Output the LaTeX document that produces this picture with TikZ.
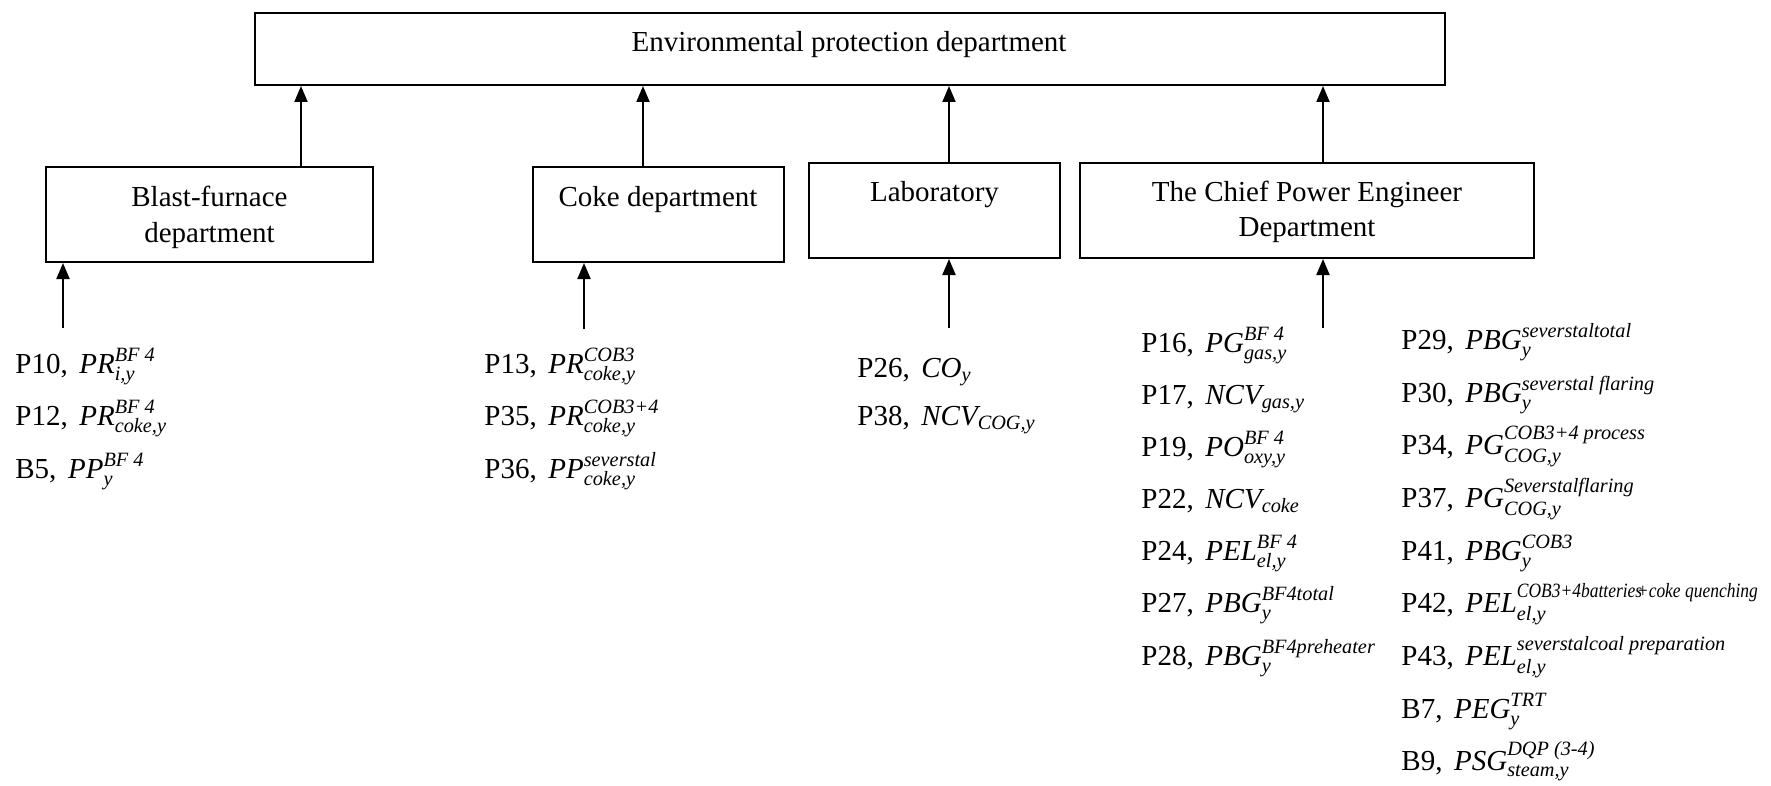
\documentclass[tikz,border=0pt]{standalone}
\usepackage{amsmath}
\usepackage{graphicx}
\usepackage{fontspec}
\setmainfont{Liberation Serif}
\usetikzlibrary{arrows.meta}
\newcommand\fs{\fontsize{14.5pt}{17.5pt}\selectfont}
\newcommand\vr[3]{$\textit{#1}^{\textit{#2}}_{\textit{#3}}$}
\newcommand\vs[2]{$\textit{#1}_{\textit{#2}}$}
\newcommand\gap{\hspace{0.4em}}
\begin{document}
\begin{tikzpicture}[x=0.5pt,y=-0.5pt,
  box/.style={draw, line width=1pt, inner sep=0pt},
  lbl/.style={inner sep=0pt, anchor=base, font=\fs},
  item/.style={inner sep=0pt, anchor=base west, font=\fs},
  arr/.style={line width=1pt, -{Triangle[length=8pt,width=6.5pt]}}]
\useasboundingbox (0,0) rectangle (1771,786);

% boxes
\node[box, minimum width=595pt, minimum height=36pt] (env) at (850,49) {};
\node[box, minimum width=163.5pt, minimum height=47.5pt] (bf) at (209.5,214.5) {};
\node[box, minimum width=125.5pt, minimum height=47.5pt] (coke) at (658.5,214.5) {};
\node[box, minimum width=125.5pt, minimum height=47.5pt] (lab) at (934.5,210.5) {};
\node[box, minimum width=227pt, minimum height=47.5pt] (cpe) at (1307,210.5) {};

% box texts
\node[lbl] (envt) at (849,52) {Environmental protection department};
\node[lbl] (bft) at (209.5,207) {\begin{tabular}[t]{@{}c@{}}Blast-furnace\\department\end{tabular}};
\node[lbl] (coket) at (658,207) {Coke department};
\node[lbl] (labt) at (934.5,202) {Laboratory};
\node[lbl] (cpet) at (1307,202) {\begin{tabular}[t]{@{}c@{}}The Chief Power Engineer\\Department\end{tabular}};

% arrows up to the top box
\coordinate (bfTop) at (301,167);
\coordinate (cokeTop) at (643,167);
\coordinate (labTop) at (949,163);
\coordinate (cpeTop) at (1323,163);
\draw[arr] (bfTop) -- (bfTop |- env.south);
\draw[arr] (cokeTop) -- (cokeTop |- env.south);
\draw[arr] (labTop) -- (labTop |- env.south);
\draw[arr] (cpeTop) -- (cpeTop |- env.south);

% arrows from the lists
\coordinate (bfIn) at (63,328);
\coordinate (cokeIn) at (584,329);
\coordinate (labIn) at (949,328);
\coordinate (cpeIn) at (1323,328);
\draw[arr] (bfIn) -- (bfIn |- bf.south);
\draw[arr] (cokeIn) -- (cokeIn |- coke.south);
\draw[arr] (labIn) -- (labIn |- lab.south);
\draw[arr] (cpeIn) -- (cpeIn |- cpe.south);

% blast-furnace list
\node[item] (p10) at (15,373) {P10,\gap\vr{PR}{BF 4}{i,y}};
\node[item] (p12) at (15,425) {P12,\gap\vr{PR}{BF 4}{coke,y}};
\node[item] (b5)  at (15,478) {B5,\gap\vr{PP}{BF 4}{y}};

% coke list
\node[item] (p13) at (484,373) {P13,\gap\vr{PR}{COB3}{coke,y}};
\node[item] (p35) at (484,425) {P35,\gap\vr{PR}{COB3+4}{coke,y}};
\node[item] (p36) at (484,478) {P36,\gap\vr{PP}{severstal}{coke,y}};

% laboratory list
\node[item] (p26) at (857,377) {P26,\gap\vs{CO}{y}};
\node[item] (p38) at (857,425) {P38,\gap\vs{NCV}{COG,y}};

% chief power engineer, column 1
\node[item] (p16) at (1141,352) {P16,\gap\vr{PG}{BF 4}{gas,y}};
\node[item] (p17) at (1141,404) {P17,\gap\vs{NCV}{gas,y}};
\node[item] (p19) at (1141,456) {P19,\gap\vr{PO}{BF 4}{oxy,y}};
\node[item] (p22) at (1141,508) {P22,\gap\vs{NCV}{coke}};
\node[item] (p24) at (1141,560) {P24,\gap\vr{PEL}{BF 4}{el,y}};
\node[item] (p27) at (1141,612) {P27,\gap\vr{PBG}{BF4total}{y}};
\node[item] (p28) at (1141,665) {P28,\gap\vr{PBG}{BF4preheater}{y}};

% chief power engineer, column 2
\node[item] (p29) at (1401,349) {P29,\gap\vr{PBG}{severstaltotal}{y}};
\node[item] (p30) at (1401,402) {P30,\gap\vr{PBG}{severstal flaring}{y}};
\node[item] (p34) at (1401,454) {P34,\gap\vr{PG}{COB3+4 process}{COG,y}};
\node[item] (p37) at (1401,507) {P37,\gap\vr{PG}{Severstalflaring}{COG,y}};
\node[item] (p41) at (1401,560) {P41,\gap\vr{PBG}{COB3}{y}};
\node[item] (p42) at (1401,612) {P42,\gap$\textit{PEL}^{\text{\scalebox{0.86}[1]{\itshape COB3+4batteries\kern-0.3em+coke quenching}}}_{\textit{el,y}}$};
\node[item] (p43) at (1401,665) {P43,\gap\vr{PEL}{severstalcoal preparation}{el,y}};
\node[item] (b7)  at (1401,718) {B7,\gap\vr{PEG}{TRT}{y}};
\node[item] (b9)  at (1401,770) {B9,\gap\vr{PSG}{DQP (3-4)}{steam,y}};
\end{tikzpicture}
\end{document}
